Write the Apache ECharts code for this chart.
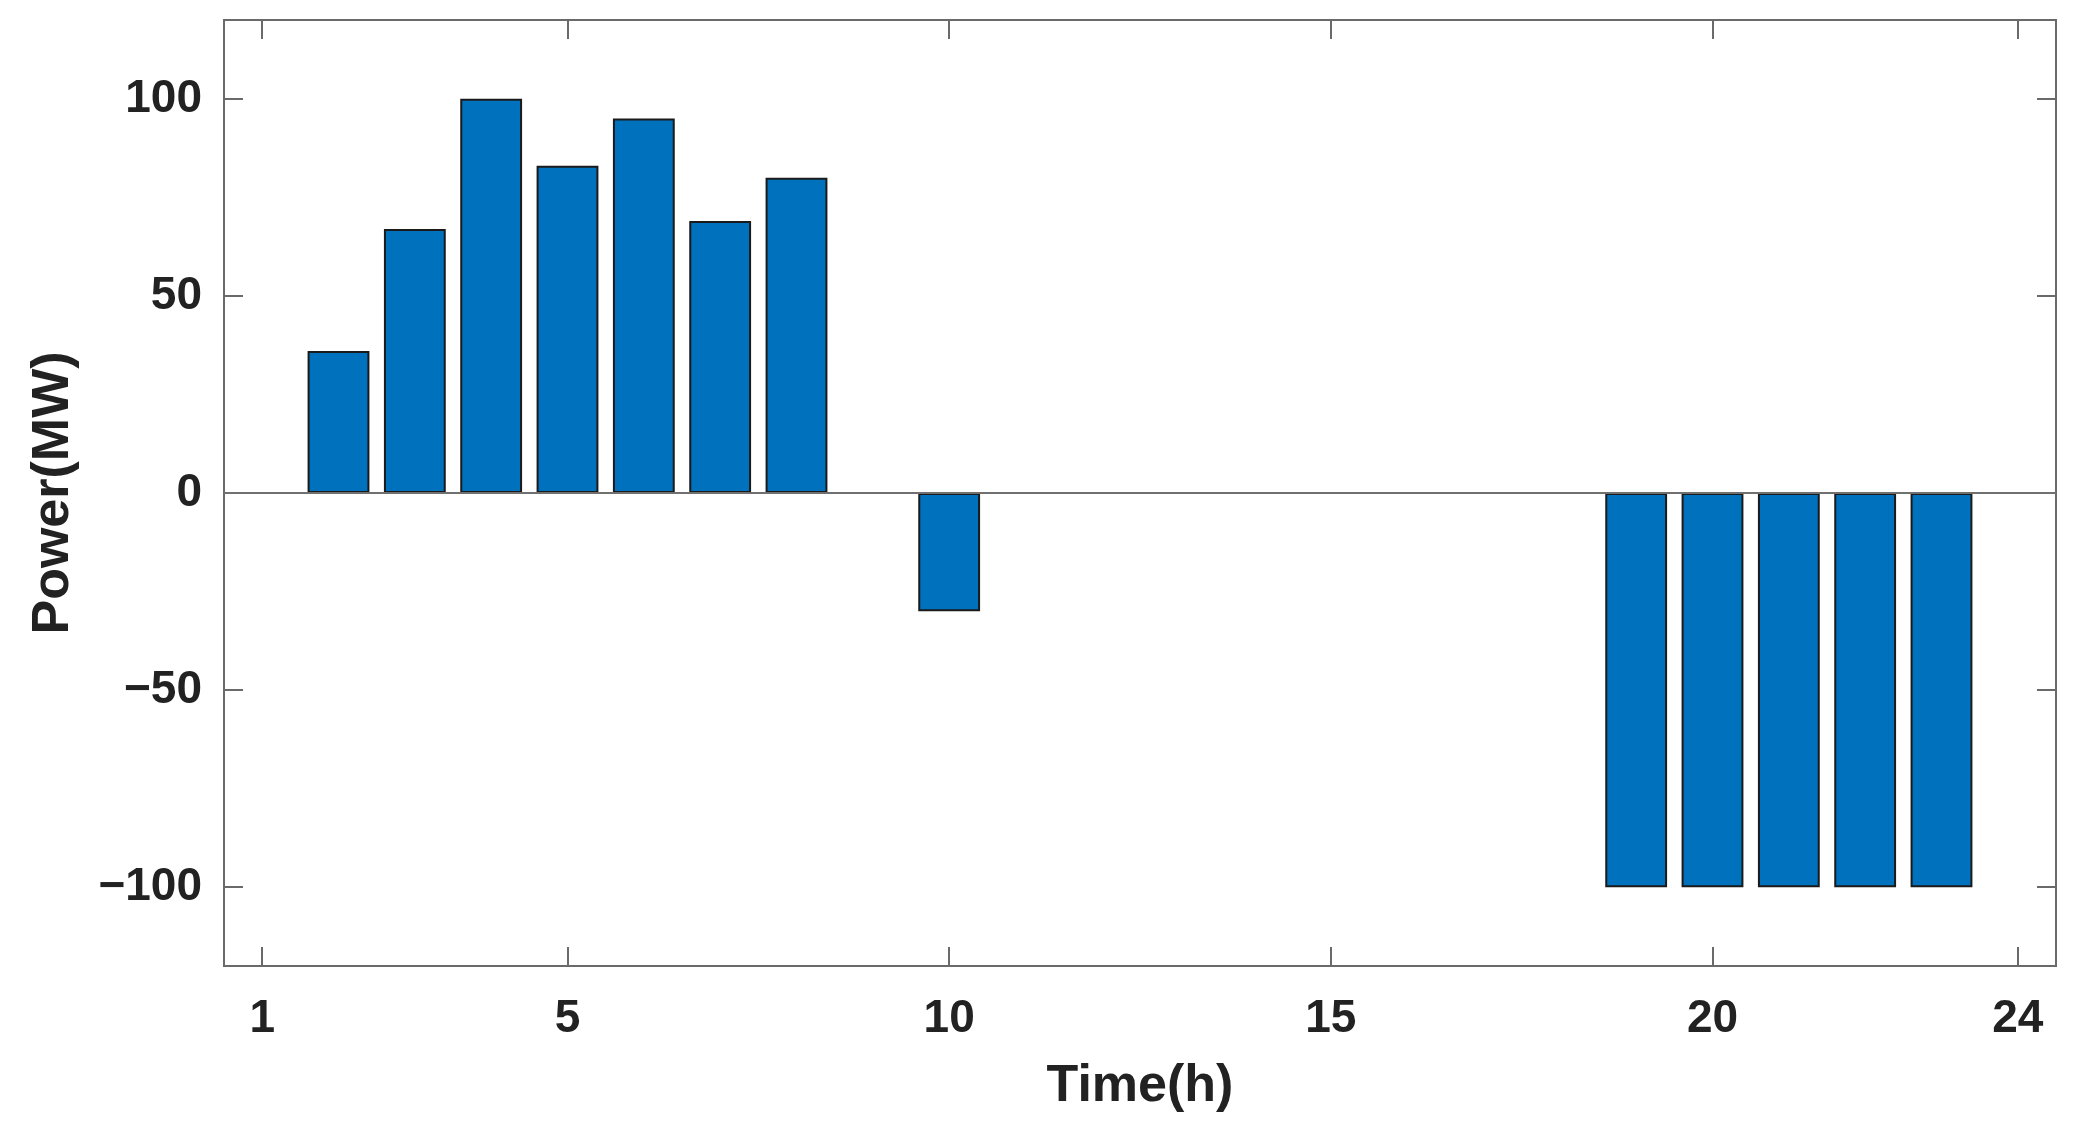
<!DOCTYPE html>
<html>
<head>
<meta charset="utf-8">
<script src="https://cdn.jsdelivr.net/npm/echarts@6/dist/echarts.min.js"></script>
<style>
html,body{margin:0;padding:0;background:#fff;}
#chart{width:2075px;height:1134px;}
</style>
</head>
<body>
<div id="chart"></div>
<script>
const hours = ['1','2','3','4','5','6','7','8','9','10','11','12','13','14','15','16','17','18','19','20','21','22','23','24'];
const power = [0,36,67,100,83,95,69,80,0,-30,0,0,0,0,0,0,0,0,-100,-100,-100,-100,-100,0];
const xTickLabels = ['1','5','10','15','20','24'];
const yTicks = [-100,-50,0,50,100];

const FONT = '"Liberation Sans", Arial, Helvetica, sans-serif';
const AX = '#6a6a6a';
const showX = (idx, val) => xTickLabels.indexOf(String(val)) >= 0;

const chart = echarts.init(document.getElementById('chart'));
chart.setOption({
  animation: false,
  backgroundColor: '#fff',
  grid: {left: 224, right: 19, top: 20, bottom: 168, show: true, borderColor: AX, borderWidth: 2, backgroundColor: 'transparent'},
  xAxis: [{
    type: 'category', data: hours, boundaryGap: true, position: 'bottom',
    name: 'Time(h)', nameLocation: 'middle', nameGap: 95,
    nameTextStyle: {fontFamily: FONT, fontWeight: 'bold', fontSize: 52, color: '#222'},
    axisLine: {show: true, onZero: false, lineStyle: {color: AX, width: 2}},
    axisTick: {show: true, inside: true, length: 19, alignWithLabel: true, interval: (i, v) => showX(i, v), lineStyle: {color: AX, width: 2}},
    axisLabel: {interval: (i, v) => showX(i, v), margin: 30, fontFamily: FONT, fontWeight: 'bold', fontSize: 46, color: '#222'},
    splitLine: {show: false}
  }, {
    type: 'category', data: hours, boundaryGap: true, position: 'top',
    axisLine: {show: true, onZero: false, lineStyle: {color: AX, width: 2}},
    axisTick: {show: true, inside: true, length: 19, alignWithLabel: true, interval: (i, v) => showX(i, v), lineStyle: {color: AX, width: 2}},
    axisLabel: {show: false}, splitLine: {show: false}
  }],
  yAxis: [{
    type: 'value', min: -120, max: 120, position: 'left',
    name: 'Power(MW)', nameLocation: 'middle', nameGap: 144, nameRotate: 90,
    nameTextStyle: {fontFamily: FONT, fontWeight: 'bold', fontSize: 52, color: '#222'},
    axisLine: {show: true, onZero: false, lineStyle: {color: AX, width: 2}},
    axisTick: {show: true, inside: true, length: 19, customValues: yTicks, lineStyle: {color: AX, width: 2}},
    axisLabel: {customValues: yTicks, margin: 22, fontFamily: FONT, fontWeight: 'bold', fontSize: 46, color: '#222',
      formatter: v => (v < 0 ? '\u2212' + Math.abs(v) : String(v))},
    splitLine: {show: false}
  }, {
    type: 'value', min: -120, max: 120, position: 'right',
    axisLine: {show: true, onZero: false, lineStyle: {color: AX, width: 2}},
    axisTick: {show: true, inside: true, length: 19, customValues: yTicks, lineStyle: {color: AX, width: 2}},
    axisLabel: {show: false}, splitLine: {show: false}
  }],
  series: [{
    type: 'bar',
    xAxisIndex: 0, yAxisIndex: 0,
    data: power.map(v => (v === 0 ? '-' : v)),
    barWidth: '81%',
    itemStyle: {color: '#0071BD', borderColor: '#1a1a1a', borderWidth: 2},
    markLine: {
      silent: true, symbol: ['none', 'none'], label: {show: false},
      lineStyle: {color: '#707070', width: 2, type: 'solid'},
      data: [{yAxis: 0}]
    },
    z: 3
  }]
});
</script>
</body>
</html>
